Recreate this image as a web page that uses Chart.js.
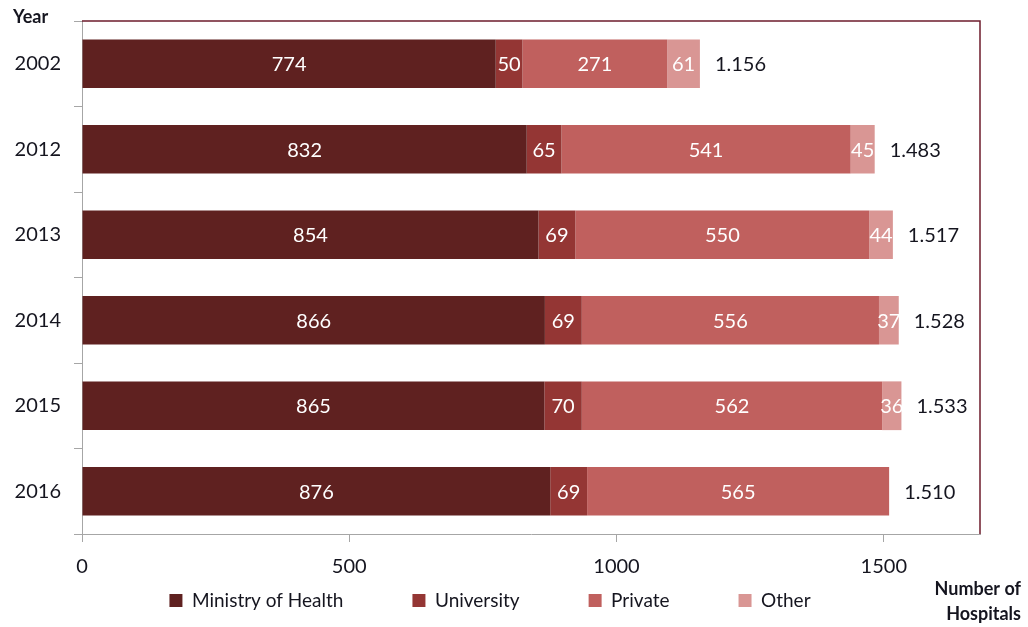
<!DOCTYPE html>
<html lang="en">
<head>
<meta charset="UTF-8">
<title>Number of Hospitals by Ownership</title>
<script src="https://cdn.jsdelivr.net/npm/chart.js"></script>
<style>
    body {
        margin: 0;
        padding: 0;
        background: #ffffff;
    }

    #wrap {
        width: 1028px;
        height: 627px;
    }
</style>
</head>
<body>
<div id="wrap"><canvas id="hospChart" width="1028" height="627"></canvas></div>

<script>
    const years = ['2002', '2012', '2013', '2014', '2015', '2016'];
    const ministry = [774, 832, 854, 866, 865, 876];
    const university = [50, 65, 69, 69, 70, 69];
    const privateHosp = [271, 541, 550, 556, 562, 565];
    const other = [61, 45, 44, 37, 36, 0];
    const xTicks = [0, 500, 1000, 1500];

    const textColor = '#15151f';
    const axisGrey = '#a6a6a6';
    const frameColor = '#6e1c2c';
    const legendGap = 69;

    // 1510 -> "1.510"
    function fmt(n) {
        return String(n).replace(/\B(?=(\d{3})+(?!\d))/g, '.');
    }

    // value inside each segment + total at the end of each bar
    const barLabels = {
        id: 'barLabels',
        afterDatasetsDraw(chart) {
            const ctx = chart.ctx;
            ctx.save();
            ctx.font = '20px Lato';
            ctx.textAlign = 'center';
            ctx.textBaseline = 'middle';
            ctx.fillStyle = '#ffffff';
            chart.data.datasets.forEach((ds, i) => {
                chart.getDatasetMeta(i).data.forEach((bar, j) => {
                    const v = ds.data[j];
                    if (!v) return;
                    ctx.fillText(v, (bar.x + bar.base) / 2, bar.y + 1);
                });
            });

            ctx.textAlign = 'left';
            ctx.fillStyle = textColor;
            const x = chart.scales.x;
            years.forEach((yr, j) => {
                const total = ministry[j] + university[j] + privateHosp[j] + other[j];
                const y = chart.getDatasetMeta(0).data[j].y;
                ctx.fillText(fmt(total), x.getPixelForValue(total) + 15, y + 1);
            });
            ctx.restore();
        }
    };

    // maroon top/right frame and the two axis captions
    const frame = {
        id: 'frame',
        afterLayout(chart) {
            // pull the legend box up so its single row sits ~57px under the axis
            const lg = chart.legend;
            lg.top = chart.chartArea.bottom + 57 - legendGap;
            lg.bottom = chart.height;
            lg.height = lg.bottom - lg.top;
        },
        afterDraw(chart) {
            const ctx = chart.ctx;
            const a = chart.chartArea;
            ctx.save();
            ctx.strokeStyle = frameColor;
            ctx.lineWidth = 1.5;
            ctx.beginPath();
            ctx.moveTo(a.left, a.top);
            ctx.lineTo(a.right, a.top);
            ctx.lineTo(a.right, a.bottom);
            ctx.stroke();

            ctx.fillStyle = textColor;
            ctx.font = 'bold 18px Lato';
            ctx.textBaseline = 'alphabetic';
            ctx.textAlign = 'left';
            ctx.fillText('Year', 13, 23);
            ctx.textAlign = 'right';
            ctx.fillText('Number of', 1021, 595);
            ctx.fillText('Hospitals', 1021, 620);
            ctx.restore();
        }
    };

    new Chart(document.getElementById('hospChart'), {
        type: 'bar',
        data: {
            labels: years,
            datasets: [
                { label: 'Ministry of Health', data: ministry, backgroundColor: '#5f2120' },
                { label: 'University', data: university, backgroundColor: '#943634' },
                { label: 'Private', data: privateHosp, backgroundColor: '#c0605e' },
                { label: 'Other', data: other, backgroundColor: '#d99694' }
            ]
        },
        options: {
            indexAxis: 'y',
            responsive: false,
            animation: false,
            datasets: { bar: { barPercentage: 0.57, categoryPercentage: 1 } },
            layout: { padding: { top: 21, right: 48, bottom: 0, left: 0 } },
            scales: {
                x: {
                    stacked: true,
                    min: 0,
                    max: 1680,
                    afterBuildTicks: ax => { ax.ticks = xTicks.map(v => ({ value: v })); },
                    afterFit: ax => { ax.height = 63; },
                    ticks: {
                        font: { family: 'Lato', size: 20 },
                        color: textColor,
                        padding: 13,
                        callback: v => String(v)
                    },
                    grid: { drawOnChartArea: false, tickLength: 8, color: axisGrey },
                    border: { color: axisGrey }
                },
                y: {
                    stacked: true,
                    afterFit: ax => {
                        ax.width = 82;
                        ax.paddingTop = 0;
                        ax.paddingBottom = 0;
                    },
                    ticks: { font: { family: 'Lato', size: 20 }, color: textColor, padding: 13 },
                    grid: { drawOnChartArea: false, tickLength: 8, color: axisGrey, offset: true },
                    border: { color: axisGrey }
                }
            },
            plugins: {
                legend: {
                    position: 'bottom',
                    maxHeight: 30,
                    labels: {
                        boxWidth: 13,
                        boxHeight: 13,
                        padding: legendGap,
                        color: textColor,
                        font: { family: 'Lato', size: 19 }
                    }
                },
                tooltip: { enabled: false }
            }
        },
        plugins: [barLabels, frame]
    });
</script>
</body>
</html>
